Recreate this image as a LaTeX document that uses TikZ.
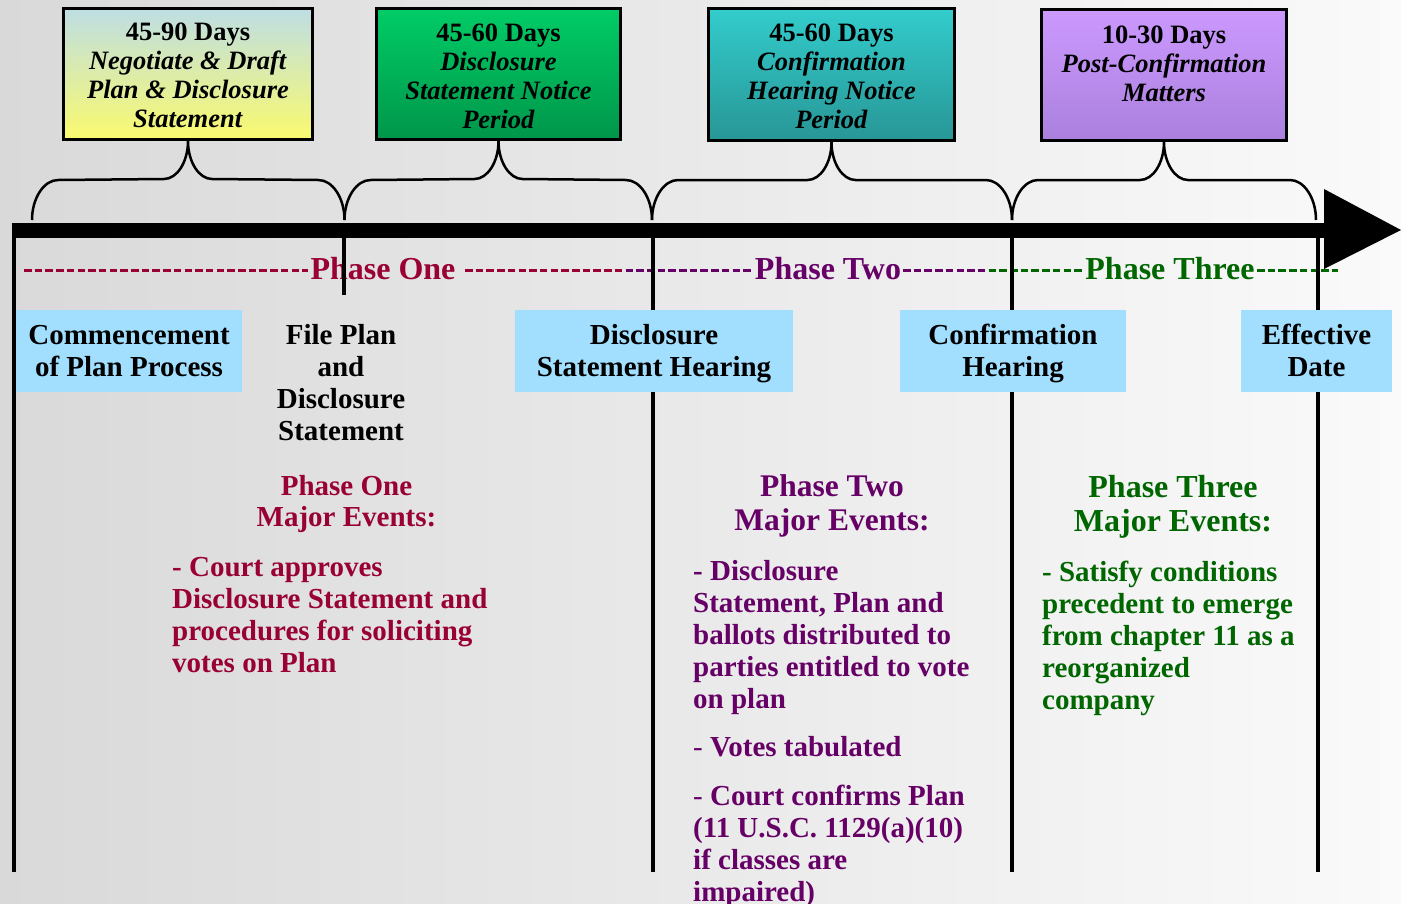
\documentclass[tikz,border=0pt]{standalone}
\usepackage{fontspec}
\setmainfont{Liberation Serif}
\usetikzlibrary{calc}
\definecolor{bgL}{RGB}{217,217,217}
\definecolor{bgR}{RGB}{250,250,250}
\definecolor{crim}{RGB}{153,0,51}
\definecolor{purp}{RGB}{102,0,102}
\definecolor{grn}{RGB}{0,102,0}
\definecolor{lblue}{RGB}{162,223,255}
\definecolor{yTop}{RGB}{190,222,228}
\definecolor{yBot}{RGB}{250,250,110}
\definecolor{gTop}{RGB}{0,204,102}
\definecolor{gBot}{RGB}{0,150,74}
\definecolor{tTop}{RGB}{51,204,204}
\definecolor{tBot}{RGB}{40,150,150}
\definecolor{vTop}{RGB}{204,153,255}
\definecolor{vBot}{RGB}{170,128,221}
\newcommand{\drawbrace}[3]{%
\draw[bracestyle] (#1) .. controls ($(#1)+(0,-22)$) and ($(#1)+(12,-40)$) .. ($(#1)+(26,-40)$)
 -- ($(#2.south)+(-24,38)$) .. controls ($(#2.south)+(-11,38)$) and ($(#2.south)+(0,21)$) .. (#2.south)
 .. controls ($(#2.south)+(0,21)$) and ($(#2.south)+(11,38)$) .. ($(#2.south)+(24,38)$)
 -- ($(#3)+(-26,-40)$) .. controls ($(#3)+(-12,-40)$) and ($(#3)+(0,-22)$) .. (#3);}
\begin{document}
\begin{tikzpicture}[x=1pt,y=-1pt,
  topbox/.style={draw=black, line width=3pt, rectangle, inner sep=0pt},
  boxtext/.style={font=\fontsize{26.5}{29}\selectfont\bfseries, align=center, inner sep=0pt},
  lbl/.style={fill=lblue, minimum height=82pt, inner sep=0pt, font=\fontsize{29}{32}\selectfont\bfseries, align=center},
  plaintext/.style={font=\fontsize{29}{32}\selectfont\bfseries, align=center, inner sep=0pt},
  tick/.style={line width=3.5pt},
  bracestyle/.style={line width=2.5pt},
  phaselbl/.style={font=\fontsize{32}{34}\selectfont\bfseries, inner sep=0pt},
  dashes/.style={line width=3pt, dash pattern=on 7.5pt off 3.2pt},
  heading/.style={align=center, inner sep=0pt},
  bullets/.style={font=\fontsize{29}{32}\selectfont\bfseries, align=left, inner sep=0pt, anchor=north west}
]
\useasboundingbox (0,0) rectangle (1401,903);
\shade[left color=bgL, right color=bgR] (0,0) rectangle (1401,903);

% coordinates
\coordinate (t0) at (14,230);
\coordinate (t1) at (344,230);
\coordinate (t2) at (653,230);
\coordinate (t3) at (1012,230);
\coordinate (t4) at (1318,230);
\coordinate (e0) at (14,872);
\coordinate (e1) at (344,295);
\coordinate (e2) at (653,872);
\coordinate (e3) at (1012,872);
\coordinate (e4) at (1318,872);
\coordinate (b0) at (32,220);
\coordinate (b1) at (344.5,220);
\coordinate (b2) at (652,220);
\coordinate (b3) at (1012,220);
\coordinate (b4) at (1316,220);

% phase dashed lines (period 10.7)
\coordinate (d1a) at (24,270);   \coordinate (d1b) at (308,270);
\coordinate (d2a) at (465,270);  \coordinate (d2b) at (752,270);
\coordinate (d3a) at (625.5,270);  \coordinate (d3b) at (752,270);
\coordinate (d4a) at (903,270);  \coordinate (d4b) at (1032,270);
\coordinate (d5a) at (988.6,270);  \coordinate (d5b) at (1084,270);
\coordinate (d6a) at (1257,270); \coordinate (d6b) at (1338,270);
\draw[dashes, crim] (d1a) -- (d1b);
\draw[dashes, crim] (d2a) -- (d2b);
\draw[dashes, purp] (d3a) -- (d3b);
\draw[dashes, purp] (d4a) -- (d4b);
\draw[dashes, grn] (d5a) -- (d5b);
\draw[dashes, grn] (d6a) -- (d6b);
\node[phaselbl, text=crim] (ph1) at (383,269) {Phase One};
\node[phaselbl, text=purp] (ph2) at (828,269) {Phase Two};
\node[phaselbl, text=grn] (ph3) at (1170,269) {Phase Three};

% vertical lines
\draw[tick] (t0) -- (e0);
\draw[tick] (t1) -- (e1);
\draw[tick] (t2) -- (e2);
\draw[tick] (t3) -- (e3);
\draw[tick] (t4) -- (e4);

% timeline bar and arrow
\coordinate (barL) at (12,223);
\coordinate (barR) at (1330,238);
\fill (barL) rectangle (barR);
\coordinate (arA) at (1324,189);
\coordinate (arT) at (1401,230);
\coordinate (arB) at (1324,269);
\fill (arA) -- (arT) -- (arB) -- cycle;

% blue event labels
\node[lbl, minimum width=226pt] (lbl1) at (129,351) {Commencement\\of Plan Process};
\node[lbl, minimum width=278pt, text depth=0pt] (lbl2) at (654,350.5) {Disclosure\\Statement Hearing};
\node[lbl, minimum width=226pt, text depth=0pt] (lbl3) at (1013,350.5) {Confirmation\\Hearing};
\node[lbl, minimum width=151pt] (lbl4) at (1316.5,350.5) {Effective\\Date};
\node[plaintext] (file) at (341,383) {File Plan\\and\\Disclosure\\Statement};

% top boxes
\node[topbox, minimum width=249pt, minimum height=131pt, top color=yTop, bottom color=yBot] (box1) at (188,74) {};
\node[topbox, minimum width=244pt, minimum height=131pt, top color=gTop, bottom color=gBot] (box2) at (498.5,74) {};
\node[topbox, minimum width=246pt, minimum height=132pt, top color=tTop, bottom color=tBot] (box3) at (831.5,74.5) {};
\node[topbox, minimum width=245pt, minimum height=131pt, top color=vTop, bottom color=vBot] (box4) at (1164,75) {};
\node[boxtext] (box1t) at (188,75.5) {45-90 Days\\\textit{Negotiate \& Draft}\\\textit{Plan \& Disclosure}\\\textit{Statement}};
\node[boxtext] (box2t) at (498.5,76) {45-60 Days\\\textit{Disclosure}\\\textit{Statement Notice}\\\textit{Period}};
\node[boxtext] (box3t) at (831.5,76) {45-60 Days\\\textit{Confirmation}\\\textit{Hearing Notice}\\\textit{Period}};
\node[boxtext] (box4t) at (1164,63.5) {10-30 Days\\\textit{Post-Confirmation}\\\textit{Matters}};

% braces
\drawbrace{b0}{box1}{b1}
\drawbrace{b1}{box2}{b2}
\drawbrace{b2}{box3}{b3}
\drawbrace{b3}{box4}{b4}

% phase headings
\node[heading, text=crim, font=\fontsize{29}{31}\selectfont\bfseries] (h1) at (346.5,504.5) {Phase One\\Major Events:};
\node[heading, text=purp, font=\fontsize{31.5}{34}\selectfont\bfseries] (h2) at (832,505.5) {Phase Two\\Major Events:};
\node[heading, text=grn, font=\fontsize{32}{34}\selectfont\bfseries] (h3) at (1173,507) {Phase Three\\Major Events:};

% bullets
\node[bullets, text=crim] (p1) at (172,557.5) {- Court approves\\Disclosure Statement and\\procedures for soliciting\\votes on Plan};
\node[bullets, text=purp] (p2) at (693,560) {- Disclosure\\Statement, Plan and\\ballots distributed to\\parties entitled to vote\\on plan\\[16pt]{\mdseries -} Votes tabulated\\[17pt]{\mdseries -} Court confirms Plan\\(11 U.S.C. 1129(a)(10)\\if classes are\\impaired)};
\node[bullets, text=grn] (p3) at (1042,560.5) {- Satisfy conditions\\precedent to emerge\\from chapter 11 as a\\reorganized\\company};
\end{tikzpicture}
\end{document}
